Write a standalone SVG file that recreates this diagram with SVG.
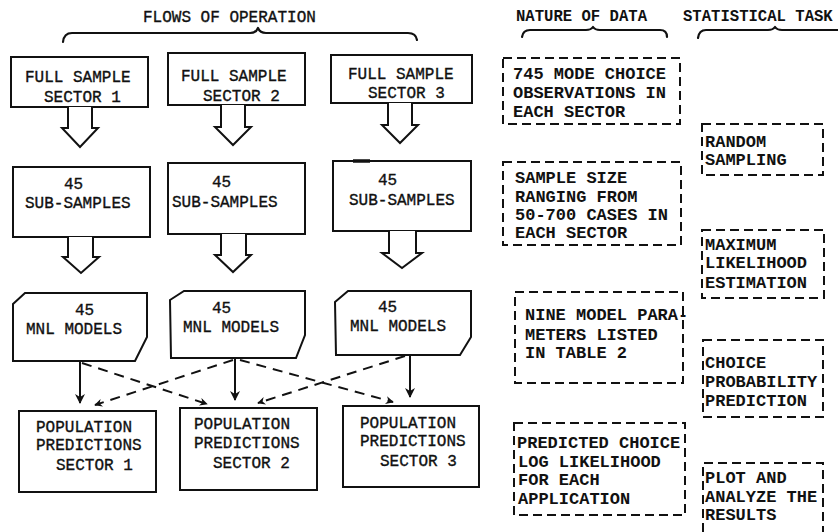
<svg xmlns="http://www.w3.org/2000/svg" width="838" height="532" viewBox="0 0 838 532">
<style>
  .t{font-family:"Liberation Mono","Courier New",monospace;font-size:16px;fill:#111;stroke:#111;stroke-width:0.35}
  .r{font-family:"Liberation Mono","Courier New",monospace;font-size:17px;font-weight:bold;fill:#111}
  .h{font-family:"Liberation Mono","Courier New",monospace;font-size:15.6px;font-weight:bold;fill:#111}
  .box{fill:#fff;stroke:#111;stroke-width:2}
  .dbox{fill:none;stroke:#111;stroke-width:2;stroke-dasharray:9 5}
  .brace{fill:none;stroke:#111;stroke-width:2.2;stroke-linecap:round;stroke-linejoin:round}
  .harrow{fill:#fff;stroke:#111;stroke-width:2;stroke-linejoin:miter}
  .sol{stroke:#111;stroke-width:2;fill:none}
  .dash{stroke:#111;stroke-width:2;fill:none;stroke-dasharray:10 7}
</style>
<defs>
  <marker id="ah" viewBox="0 0 10 10" refX="9" refY="5" markerWidth="10" markerHeight="10" orient="auto" markerUnits="userSpaceOnUse">
    <path d="M0,0 L10,5 L0,10 L3,5 Z" fill="#111"/>
  </marker>
  <marker id="ahs" viewBox="0 0 10 10" refX="9" refY="5" markerWidth="8" markerHeight="8" orient="auto" markerUnits="userSpaceOnUse">
    <path d="M0,0 L10,5 L0,10 L3,5 Z" fill="#111"/>
  </marker>
</defs>
<rect width="838" height="532" fill="#fff"/>

<g id="headers">
  <text class="t" x="143" y="22">FLOWS OF OPERATION</text>
  <path class="brace" d="M63,42 Q64,33 72,33 H250 Q256,33 258,28 Q260,33 266,33 H408 Q416,33 417,40"/>
  <text class="h" x="516" y="21">NATURE OF DATA</text>
  <path class="brace" d="M522,37 Q523,30 530,30 H586 Q591,30 593,27 Q595,30 600,30 H660 Q667,30 667,37"/>
  <text class="h" x="683" y="21">STATISTICAL TASK</text>
  <path class="brace" d="M698,38 Q699,30 706,30 H768 Q773,30 775,27 Q777,30 782,30 H840"/>
</g>

<g id="full1">
  <rect class="box" x="11" y="57" width="137" height="50"/>
  <text class="t" x="25" y="82">FULL SAMPLE</text>
  <text class="t" x="44" y="102">SECTOR 1</text>
</g>
<g id="full2">
  <rect class="box" x="168" y="53" width="137" height="52"/>
  <text class="t" x="181" y="81">FULL SAMPLE</text>
  <text class="t" x="203" y="101">SECTOR 2</text>
</g>
<g id="full3">
  <rect class="box" x="331" y="55" width="141" height="48"/>
  <text class="t" x="348" y="79">FULL SAMPLE</text>
  <text class="t" x="368" y="98">SECTOR 3</text>
</g>

<g id="sub1">
  <rect class="box" x="13" y="167" width="137" height="70"/>
  <text class="t" x="64" y="189">45</text>
  <text class="t" x="25" y="208">SUB-SAMPLES</text>
</g>
<g id="sub2">
  <rect class="box" x="168" y="163" width="137" height="71"/>
  <text class="t" x="212" y="187">45</text>
  <text class="t" x="172" y="207">SUB-SAMPLES</text>
</g>
<g id="sub3">
  <rect class="box" x="333" y="161" width="138" height="70"/>
  <line x1="353" y1="161" x2="370" y2="161" stroke="#111" stroke-width="3.5"/>
  <text class="t" x="378" y="185">45</text>
  <text class="t" x="349" y="205">SUB-SAMPLES</text>
</g>

<g id="mnl1">
  <path class="box" d="M13,304 L25,293 H147 V337 L135,361 H13 Z"/>
  <text class="t" x="75" y="315">45</text>
  <text class="t" x="26" y="334">MNL MODELS</text>
</g>
<g id="mnl2">
  <path class="box" d="M170,300 L184,291 H305 V335 L296,358 H171 Z"/>
  <text class="t" x="212" y="313">45</text>
  <text class="t" x="183" y="332">MNL MODELS</text>
</g>
<g id="mnl3">
  <path class="box" d="M335,302 L348,291 H471 V337 L460,355 H336 Z"/>
  <text class="t" x="378" y="312">45</text>
  <text class="t" x="350" y="331">MNL MODELS</text>
</g>

<g id="pop1">
  <rect class="box" x="19" y="411" width="137" height="81"/>
  <text class="t" x="36" y="432">POPULATION</text>
  <text class="t" x="36" y="450">PREDICTIONS</text>
  <text class="t" x="56" y="470">SECTOR 1</text>
</g>
<g id="pop2">
  <rect class="box" x="180" y="408" width="137" height="82"/>
  <text class="t" x="194" y="429">POPULATION</text>
  <text class="t" x="194" y="448">PREDICTIONS</text>
  <text class="t" x="213" y="468">SECTOR 2</text>
</g>
<g id="pop3">
  <rect class="box" x="343" y="406" width="136" height="81"/>
  <text class="t" x="360" y="428">POPULATION</text>
  <text class="t" x="360" y="446">PREDICTIONS</text>
  <text class="t" x="380" y="466">SECTOR 3</text>
</g>

<g id="data1">
  <rect class="dbox" x="503" y="58" width="177" height="66"/>
  <text class="r" x="513" y="79">745 MODE CHOICE</text>
  <text class="r" x="513" y="98">OBSERVATIONS IN</text>
  <text class="r" x="513" y="117">EACH SECTOR</text>
</g>
<g id="data2">
  <rect class="dbox" x="503" y="162" width="178" height="83"/>
  <text class="r" x="515" y="183">SAMPLE SIZE</text>
  <text class="r" x="515" y="202">RANGING FROM</text>
  <text class="r" x="515" y="220">50-700 CASES IN</text>
  <text class="r" x="515" y="238">EACH SECTOR</text>
</g>
<g id="data3">
  <rect class="dbox" x="515" y="292" width="168" height="91"/>
  <text class="r" x="525" y="320">NINE MODEL PARA-</text>
  <text class="r" x="525" y="340">METERS LISTED</text>
  <text class="r" x="525" y="358">IN TABLE 2</text>
</g>
<g id="data4">
  <rect class="dbox" x="514" y="423" width="171" height="92"/>
  <text class="r" x="517" y="448">PREDICTED CHOICE</text>
  <text class="r" x="518" y="467">LOG LIKELIHOOD</text>
  <text class="r" x="518" y="485">FOR EACH</text>
  <text class="r" x="518" y="504">APPLICATION</text>
</g>

<g id="task1">
  <rect class="dbox" x="702" y="124" width="121" height="51"/>
  <text class="r" x="705" y="147">RANDOM</text>
  <text class="r" x="705" y="165">SAMPLING</text>
</g>
<g id="task2">
  <rect class="dbox" x="702" y="230" width="122" height="68"/>
  <text class="r" x="705" y="250">MAXIMUM</text>
  <text class="r" x="705" y="268">LIKELIHOOD</text>
  <text class="r" x="705" y="288">ESTIMATION</text>
</g>
<g id="task3">
  <rect class="dbox" x="703" y="340" width="120" height="77"/>
  <text class="r" x="705" y="368">CHOICE</text>
  <text class="r" x="705" y="387">PROBABILITY</text>
  <text class="r" x="705" y="406">PREDICTION</text>
</g>
<g id="task4">
  <path class="dbox" d="M703,532 V463 H823 V532"/>
  <text class="r" x="705" y="483">PLOT AND</text>
  <text class="r" x="705" y="502">ANALYZE THE</text>
  <text class="r" x="705" y="520">RESULTS</text>
</g>

<g id="connectors">
  <path class="harrow" d="M68,107 V128 H62 L80,147 L98,128 H92 V107"/>
  <path class="harrow" d="M221,105 V127 H215 L233,145 L251,127 H245 V105"/>
  <path class="harrow" d="M388,103 V125 H382 L400,143 L418,125 H412 V103"/>
  <path class="harrow" d="M68,237 V257 H63 L81,273 L99,257 H93 V237"/>
  <path class="harrow" d="M221,234 V255 H215 L233,272 L251,255 H246 V234"/>
  <path class="harrow" d="M389,231 V253 H382 L402,268 L422,253 H416 V231"/>
  <line class="sol" x1="80" y1="361" x2="80" y2="403" marker-end="url(#ah)"/>
  <line class="sol" x1="235" y1="358" x2="235" y2="400" marker-end="url(#ah)"/>
  <line class="sol" x1="410" y1="355" x2="410" y2="397" marker-end="url(#ah)"/>
  <line class="dash" x1="82" y1="363" x2="207" y2="404" marker-end="url(#ahs)"/>
  <line class="dash" x1="233" y1="360" x2="95" y2="405" marker-end="url(#ahs)"/>
  <line class="dash" x1="240" y1="360" x2="393" y2="402" marker-end="url(#ahs)"/>
  <line class="dash" x1="405" y1="356" x2="258" y2="403" marker-end="url(#ahs)"/>
</g>
</svg>
